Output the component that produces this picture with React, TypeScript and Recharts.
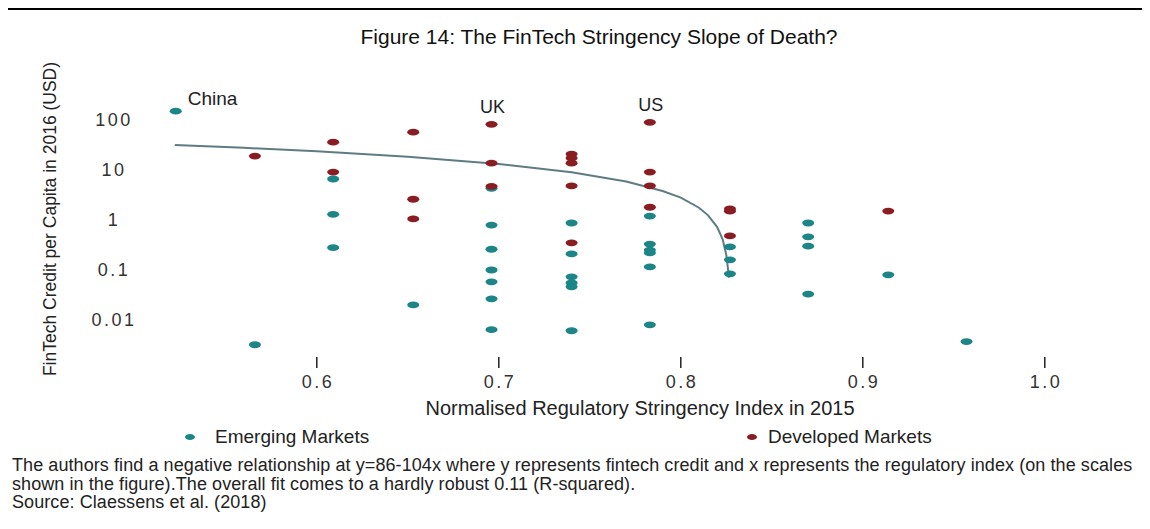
import React from 'react';
import { ScatterChart, Scatter, XAxis, YAxis } from 'recharts';

// ---- Data ----
const emergingX = [0.5225, 0.566, 0.609, 0.609, 0.609, 0.653, 0.696, 0.696, 0.696, 0.696, 0.696, 0.696, 0.696, 0.740, 0.740, 0.740, 0.740, 0.740, 0.740, 0.783, 0.783, 0.783, 0.783, 0.783, 0.783, 0.827, 0.827, 0.827, 0.870, 0.870, 0.870, 0.870, 0.914, 0.957];
const emergingY = [150, 0.0032, 6.6, 1.3, 0.28, 0.020, 4.3, 0.79, 0.26, 0.10, 0.058, 0.0265, 0.0064, 0.87, 0.21, 0.073, 0.055, 0.046, 0.0061, 1.2, 0.33, 0.25, 0.22, 0.115, 0.008, 0.29, 0.16, 0.084, 0.87, 0.46, 0.30, 0.033, 0.080, 0.0037];

const developedX = [0.566, 0.609, 0.609, 0.653, 0.653, 0.653, 0.696, 0.696, 0.696, 0.740, 0.740, 0.740, 0.740, 0.740, 0.783, 0.783, 0.783, 0.783, 0.827, 0.827, 0.827, 0.914];
const developedY = [19, 36, 9.1, 57, 2.6, 1.05, 82, 13.7, 4.7, 20.8, 17.3, 13.7, 4.8, 0.35, 90, 9.1, 4.8, 1.8, 1.66, 1.5, 0.48, 1.51];

// fitted curve, points
const trendX = [0.522, 0.56, 0.6, 0.65, 0.7, 0.74, 0.77, 0.79, 0.8, 0.81, 0.815, 0.82, 0.823, 0.825, 0.826, 0.8263];
const trendY = [31.7, 27.8, 23.6, 18.4, 13.2, 9.0, 5.9, 3.8, 2.8, 1.76, 1.24, 0.72, 0.41, 0.2, 0.1, 0.07];

const annotationNames = ['China', 'UK', 'US'];
const annotationX = [0.5225, 0.696, 0.783];
const annotationY = [150, 82, 90];

const xTicks = [0.6, 0.7, 0.8, 0.9, 1.0];
const yTicks = [0.01, 0.1, 1, 10, 100];
const xDomain = [0.51, 1.01];
const yDomain = [0.0025119, 398.107];

const title = 'Figure 14: The FinTech Stringency Slope of Death?';
const xTitle = 'Normalised Regulatory Stringency Index in 2015';
const yTitle = 'FinTech Credit per Capita in 2016 (USD)';
const legendNames = ['Emerging Markets', 'Developed Markets'];
const footLines = [
  'The authors find a negative relationship at y=86-104x where y represents fintech credit and x represents the regulatory index (on the scales',
  'shown in the figure).The overall fit comes to a hardly robust 0.11 (R-squared).',
  'Source: Claessens et al. (2018)',
];

const TEAL = '#1b8587';
const RED = '#8a1d22';
const LINE = '#5e7c83';
const FONT = '"Liberation Sans", Arial, sans-serif';

const emerging = emergingX.map((x, i) => ({ x, y: emergingY[i] }));
const developed = developedX.map((x, i) => ({ x, y: developedY[i] }));
const trend = trendX.map((x, i) => ({ x, y: trendY[i] }));
const annotations = annotationNames.map((name, i) => ({ name, x: annotationX[i], y: annotationY[i] }));

const dot = (color: string) => (p: any) => (
  <ellipse cx={p.cx} cy={p.cy} rx={6} ry={3.4} fill={color} />
);

const AnnotationShape = (p: any) => {
  const name = p.payload?.name ?? p.name;
  if (name === 'China') {
    return (
      <text x={p.cx + 12} y={p.cy - 6} fontSize={19} fontFamily={FONT} fill="#222">{name}</text>
    );
  }
  return (
    <text x={p.cx + 1} y={p.cy - 11} textAnchor="middle" fontSize={18} fontFamily={FONT} fill="#222">{name}</text>
  );
};

const XTick = (p: any) => (
  <g>
    <line x1={p.x} x2={p.x} y1={p.y + 7} y2={p.y + 18} stroke="#222" strokeWidth={1.5} />
    <text x={p.x + 1.2} y={p.y + 38} textAnchor="middle" fontSize={18} letterSpacing={2.5} fontFamily={FONT} fill="#333">
      {Number(p.payload.value).toFixed(1)}
    </text>
  </g>
);

const YTick = (p: any) => (
  <text x={p.x - 39} y={p.y} dy={6} textAnchor="middle" fontSize={18} letterSpacing={2.5} fontFamily={FONT} fill="#333">
    {String(p.payload.value)}
  </text>
);

const YLabel = () => (
  <text x={42} y={211} transform="rotate(-90 42 211)" dy={6} textAnchor="middle" fontSize={17.5} fontFamily={FONT} fill="#222">
    {yTitle}
  </text>
);

const XLabel = () => (
  <text x={632} y={407} textAnchor="middle" fontSize={20} fontFamily={FONT} fill="#222">
    {xTitle}
  </text>
);

export default function App() {
  return (
    <div style={{ position: 'relative', width: 1142, height: 521, fontFamily: FONT }}>
      <div style={{ position: 'absolute', left: -2, top: 0, width: 1144, height: 2, background: '#000' }} />
      <div style={{ position: 'absolute', left: -2, top: 0, width: 2, height: 521, background: '#000' }} />
      <div style={{ position: 'absolute', left: 291, top: 18, width: 600, textAlign: 'center', fontSize: 21, lineHeight: '21px', color: '#111', whiteSpace: 'nowrap' }}>
        {title}
      </div>
      <div style={{ position: 'absolute', left: 0, top: 0 }}>
        <ScatterChart width={1142} height={420} margin={{ top: 82, right: 87, bottom: 18, left: 85 }}>
          <XAxis
            type="number"
            dataKey="x"
            domain={xDomain}
            ticks={xTicks}
            allowDataOverflow
            axisLine={false}
            tickLine={false}
            tickSize={0}
            tickMargin={0}
            height={60}
            tick={XTick}
            label={XLabel}
          />
          <YAxis
            type="number"
            dataKey="y"
            scale="log"
            domain={yDomain}
            ticks={yTicks}
            allowDataOverflow
            axisLine={false}
            tickLine={false}
            tickSize={0}
            tickMargin={0}
            width={60}
            tick={YTick}
            label={YLabel}
          />
          <Scatter data={trend} isAnimationActive={false} line={{ stroke: LINE, strokeWidth: 2 }} lineType="joint" shape={() => <g />} />
          <Scatter data={emerging} isAnimationActive={false} shape={dot(TEAL)} />
          <Scatter data={developed} isAnimationActive={false} shape={dot(RED)} />
          <Scatter data={annotations} isAnimationActive={false} shape={AnnotationShape} />
        </ScatterChart>
      </div>
      <div style={{ position: 'absolute', left: 177, top: 426, width: 10, height: 6, borderRadius: '50%', background: TEAL }} />
      <div style={{ position: 'absolute', left: 207, top: 419, fontSize: 19, lineHeight: '19px', color: '#222', whiteSpace: 'nowrap' }}>
        {legendNames[0]}
      </div>
      <div style={{ position: 'absolute', left: 739, top: 426, width: 10, height: 6, borderRadius: '50%', background: RED }} />
      <div style={{ position: 'absolute', left: 760, top: 419, fontSize: 19, lineHeight: '19px', color: '#222', whiteSpace: 'nowrap' }}>
        {legendNames[1]}
      </div>
      <div style={{ position: 'absolute', left: 4, top: 448, fontSize: 18, lineHeight: '18.5px', letterSpacing: 0.08, color: '#222', whiteSpace: 'nowrap' }}>
        {footLines.map((l, i) => (
          <div key={i}>{l}</div>
        ))}
      </div>
    </div>
  );
}
